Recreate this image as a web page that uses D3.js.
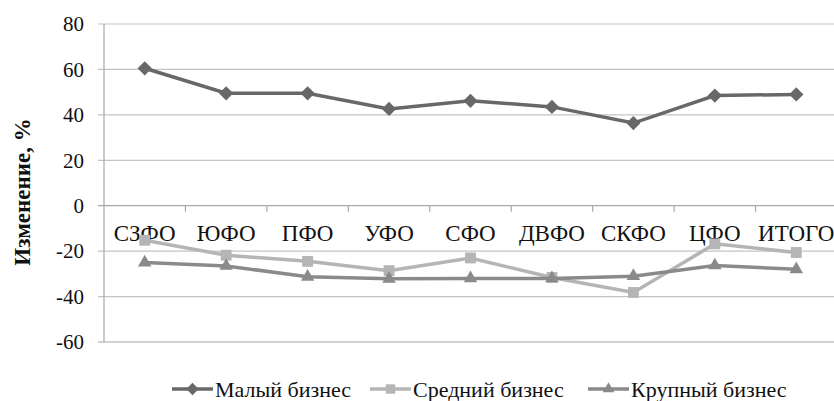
<!DOCTYPE html>
<html>
<head>
<meta charset="utf-8">
<script src="https://cdn.jsdelivr.net/npm/d3@7"></script>
<style>
  body { margin: 0; background: #fff; }
  svg text { font-family: "Liberation Serif", "Times New Roman", serif; }
</style>
</head>
<body>
<div id="chart"></div>
<script>
// данные графика
const categories = ["СЗФО", "ЮФО", "ПФО", "УФО", "СФО", "ДВФО", "СКФО", "ЦФО", "ИТОГО"];
const smallBiz = [60.5, 49.5, 49.5, 42.6, 46.2, 43.5, 36.4, 48.5, 49.0];
const mediumBiz = [-15.2, -21.8, -24.5, -28.6, -23.0, -31.6, -38.2, -16.8, -20.6];
const largeBiz = [-25.0, -26.5, -31.3, -32.2, -32.0, -32.0, -31.0, -26.3, -28.0];
const yTicks = [-60, -40, -20, 0, 20, 40, 60, 80];

const width = 834;
const height = 401;
const marginTop = 24;
const marginLeft = 104;
const plotRight = 837;
const plotBottom = 342;

const series = [
    { name: "Малый бизнес", values: smallBiz, color: "#686868", symbol: d3.symbolDiamond2, size: 130 },
    { name: "Средний бизнес", values: mediumBiz, color: "#b5b5b5", symbol: d3.symbolSquare2, size: 150 },
    { name: "Крупный бизнес", values: largeBiz, color: "#8a8a8a", symbol: d3.symbolTriangle2, size: 130 }
];

const x = d3.scaleBand()
    .domain(categories)
    .range([marginLeft, plotRight]);

const y = d3.scaleLinear()
    .domain([-60, 80])
    .range([plotBottom, marginTop]);

const svg = d3.select("#chart").append("svg")
    .attr("width", width)
    .attr("height", height)
    .attr("viewBox", [0, 0, width, height])
    .style("display", "block");

// сетка
svg.append("g")
    .selectAll("line")
    .data(yTicks)
    .join("line")
    .attr("x1", marginLeft - 6)
    .attr("x2", width)
    .attr("y1", d => y(d))
    .attr("y2", d => y(d))
    .attr("stroke", d => d === 0 || d === -60 ? "#a8a8a8" : "#c4c4c4")
    .attr("stroke-width", 1.2);

// ось y
svg.append("line")
    .attr("x1", marginLeft).attr("x2", marginLeft)
    .attr("y1", marginTop).attr("y2", plotBottom)
    .attr("stroke", "#a8a8a8")
    .attr("stroke-width", 1.2);

svg.append("g")
    .selectAll("text")
    .data(yTicks)
    .join("text")
    .attr("x", marginLeft - 20)
    .attr("y", d => y(d))
    .attr("dy", "0.35em")
    .attr("text-anchor", "end")
    .attr("font-size", 21)
    .attr("fill", "#111")
    .text(d => d);

// засечки категорий на оси 0
svg.append("g")
    .selectAll("line")
    .data(categories.slice(1))
    .join("line")
    .attr("x1", d => x(d)).attr("x2", d => x(d))
    .attr("y1", y(0)).attr("y2", y(0) + 6)
    .attr("stroke", "#a8a8a8")
    .attr("stroke-width", 1.2);

svg.append("g")
    .selectAll("text")
    .data(categories)
    .join("text")
    .attr("x", d => x(d) + x.bandwidth() / 2)
    .attr("y", y(0) + 35)
    .attr("text-anchor", "middle")
    .attr("font-size", 23)
    .attr("fill", "#111")
    .text(d => d);

// подпись оси y
svg.append("text")
    .attr("transform", "rotate(-90)")
    .attr("x", -192)
    .attr("y", 30)
    .attr("text-anchor", "middle")
    .attr("font-size", 23)
    .attr("font-weight", "bold")
    .attr("fill", "#111")
    .text("Изменение, %");

// линии
const line = d3.line()
    .x((d, i) => x(categories[i]) + x.bandwidth() / 2)
    .y(d => y(d));

const serie = svg.append("g")
    .selectAll("g")
    .data(series)
    .join("g");

serie.append("path")
    .attr("fill", "none")
    .attr("stroke", d => d.color)
    .attr("stroke-width", 3.5)
    .attr("d", d => line(d.values));

serie.each(function (s) {
    d3.select(this).selectAll("path.pt")
        .data(s.values)
        .join("path")
        .attr("class", "pt")
        .attr("transform", (d, i) => `translate(${x(categories[i]) + x.bandwidth() / 2},${y(d)})`)
        .attr("d", d3.symbol(s.symbol, s.size))
        .attr("fill", s.color);
});

// легенда
const legendX = [172, 370, 588];
const legendY = 389;
const legends = svg.append("g")
    .selectAll("g")
    .data(series)
    .join("g")
    .attr("transform", (d, i) => `translate(${legendX[i]},${legendY})`);

legends.append("line")
    .attr("x1", 0).attr("x2", 41)
    .attr("stroke", d => d.color)
    .attr("stroke-width", 3.5);

legends.append("path")
    .attr("transform", "translate(20.5,0)")
    .attr("d", d => d3.symbol(d.symbol, d.size * 0.75)())
    .attr("fill", d => d.color);

legends.append("text")
    .attr("x", 43)
    .attr("dy", "0.35em")
    .attr("font-size", 22)
    .attr("fill", "#111")
    .text(d => d.name);
</script>
</body>
</html>
